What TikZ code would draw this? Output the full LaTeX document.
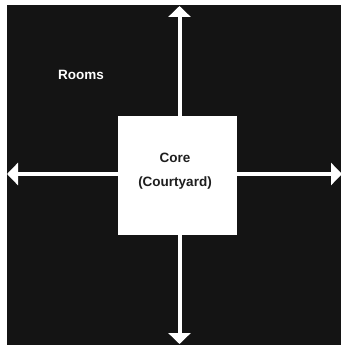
\documentclass[tikz,border=0pt]{standalone}
\usepackage{fontspec}
\setmainfont{Liberation Sans}
\usetikzlibrary{arrows.meta}
\definecolor{bgdark}{HTML}{141414}
\definecolor{txtdark}{HTML}{1E1E1E}
\tikzset{
  arr/.style={draw=white, line width=4pt, -{Triangle[width=22pt,length=11pt]}},
  corebox/.style={fill=white, draw=none, minimum width=119pt, minimum height=119pt, inner sep=0pt},
  lbl/.style={font=\fontsize{13.5}{16}\selectfont\bfseries, inner sep=0pt}
}
\begin{document}
\begin{tikzpicture}[x=1pt,y=-1pt]
\useasboundingbox (0,0) rectangle (341,345);
\fill[white] (0,0) rectangle (341,345);
\fill[bgdark] (7,5) rectangle (341,345);
\node[corebox] (core) at (177.5,175.5) {};
\coordinate (up) at (179.5,6);
\coordinate (dn) at (179.5,344);
\coordinate (lf) at (7,174);
\coordinate (rt) at (342,174);
\draw[arr] (core.north -| up) -- (up);
\draw[arr] (core.south -| dn) -- (dn);
\draw[arr] (core.west |- lf) -- (lf);
\draw[arr] (core.east |- rt) -- (rt);
\node[lbl, text=txtdark] (corename) at (175,158) {Core};
\node[lbl, text=txtdark] (coresub) at (175,183) {(Courtyard)};
\node[lbl, text=white] (rooms) at (81,75) {Rooms};
\end{tikzpicture}
\end{document}
